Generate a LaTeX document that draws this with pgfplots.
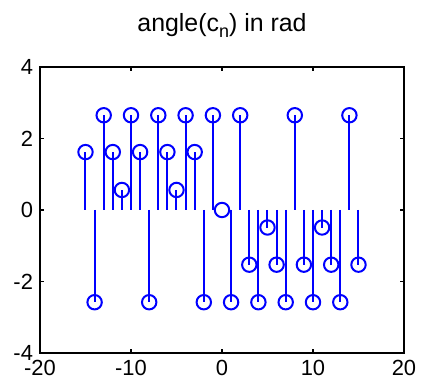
\documentclass[border=0pt]{standalone}
\usepackage{fontspec}
\setmainfont{Liberation Sans}
\usepackage{pgfplots}
\pgfplotsset{compat=1.18}
\definecolor{mblue}{RGB}{0,0,255}
\pgfplotstableread{
n v
-15 1.62
-14 -2.58
-13 2.65
-12 1.62
-11 0.56
-10 2.65
-9 1.62
-8 -2.58
-7 2.65
-6 1.62
-5 0.56
-4 2.65
-3 1.62
-2 -2.58
-1 2.65
0 0
1 -2.58
2 2.65
3 -1.53
4 -2.58
5 -0.49
6 -1.53
7 -2.58
8 2.65
9 -1.53
10 -2.58
11 -0.49
12 -1.53
13 -2.58
14 2.65
15 -1.53
}\data
\begin{document}
\begin{tikzpicture}
\begin{axis}[
  scale only axis, width=182bp, height=143bp,
  xmin=-20, xmax=20, ymin=-4, ymax=4,
  xtick={-20,-10,0,10,20}, ytick={-4,-2,0,2,4},
  tick align=inside, major tick length=1.8bp,
  tick pos=both,
  axis line style={draw=black, line width=1.2bp},
  tick style={draw=black, line width=0.7bp},
  ticklabel style={font=\fontsize{11}{13}\selectfont},
  /pgf/number format/assume math mode=true,
  title={angle(c\raisebox{-0.45ex}{\fontsize{9}{10}\selectfont n}) in rad},
  every axis title/.style={font=\fontsize{12.5}{14}\selectfont, at={(0.5,1)}, anchor=base, yshift=17.5bp},
  clip=false,
]
\addplot[ycomb, mblue, line width=1bp, mark=o, mark size=3.6bp, mark options={line width=1bp, fill=none}] table[x=n, y=v] {\data};
\draw[black, line width=1.2bp] (rel axis cs:0,0) rectangle (rel axis cs:1,1);
\end{axis}
\path ([shift={(-20bp,-18.5bp)}]current axis.south west) rectangle ([shift={(10bp,33.5bp)}]current axis.north east);
\end{tikzpicture}
\end{document}
